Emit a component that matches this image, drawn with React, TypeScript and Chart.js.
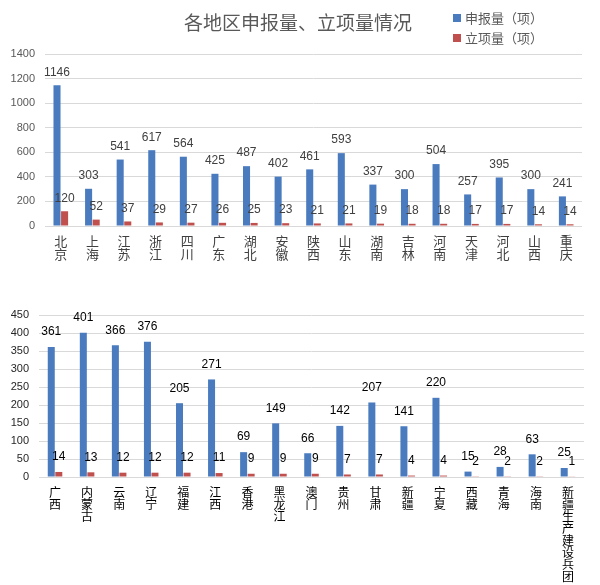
import React, { useEffect, useRef } from "react";
import { Chart, registerables } from "chart.js";

Chart.register(...registerables);

const TITLE = "各地区申报量、立项量情况";
const SERIES_NAMES = ["申报量（项）", "立项量（项）"];
const COLORS = ["#4A7BBF", "#C0504D"];

const topRegions = ["北京", "上海", "江苏", "浙江", "四川", "广东", "湖北", "安徽", "陕西", "山东", "湖南", "吉林", "河南", "天津", "河北", "山西", "重庆"];
const topApplied = [1146, 303, 541, 617, 564, 425, 487, 402, 461, 593, 337, 300, 504, 257, 395, 300, 241];
const topApproved = [120, 52, 37, 29, 27, 26, 25, 23, 21, 21, 19, 18, 18, 17, 17, 14, 14];

const bottomRegions = ["广西", "内蒙古", "云南", "辽宁", "福建", "江西", "香港", "黑龙江", "澳门", "贵州", "甘肃", "新疆", "宁夏", "西藏", "青海", "海南", "新疆生产建设兵团"];
const bottomApplied = [361, 401, 366, 376, 205, 271, 69, 149, 66, 142, 207, 141, 220, 15, 28, 63, 25];
const bottomApproved = [14, 13, 12, 12, 12, 11, 9, 9, 9, 7, 7, 4, 4, 2, 2, 2, 1];

const CJK = '"Noto Sans CJK SC", "Noto Sans", sans-serif';
const NUM = '"Liberation Sans", "DejaVu Sans", sans-serif';

function valueLabels(offset: number, color: string) {
  return {
    id: "valueLabels",
    afterDatasetsDraw(chart: any) {
      const ctx = chart.ctx;
      ctx.save();
      ctx.font = `12px ${NUM}`;
      ctx.fillStyle = color;
      ctx.textAlign = "center";
      ctx.textBaseline = "middle";
      chart.data.datasets.forEach((ds: any, i: number) => {
        const meta = chart.getDatasetMeta(i);
        meta.data.forEach((el: any, j: number) => {
          ctx.fillText(String(ds.data[j]), el.x, el.y - offset);
        });
      });
      ctx.restore();
    },
  };
}

const titleLegend = {
  id: "titleLegend",
  afterDraw(chart: any) {
    const ctx = chart.ctx;
    ctx.save();
    ctx.fillStyle = "#595959";
    ctx.font = `19px ${CJK}`;
    ctx.textAlign = "center";
    ctx.textBaseline = "middle";
    ctx.fillText(TITLE, 298, 23);
    ctx.font = `13px ${CJK}`;
    ctx.textAlign = "left";
    chart.data.datasets.forEach((ds: any, i: number) => {
      const y = 18 + i * 20;
      ctx.fillStyle = ds.backgroundColor;
      ctx.fillRect(453, y - 4, 8, 8);
      ctx.fillStyle = "#595959";
      ctx.fillText(ds.label, 465, y);
    });
    ctx.restore();
  },
};

function makeConfig(
  labels: string[],
  applied: number[],
  approved: number[],
  opts: {
    max: number;
    step: number;
    yWidth: number;
    xHeight: number;
    top: number;
    right: number;
    labelFont: number;
    labelColor: string;
    tickColor: string;
    valueColor: string;
    valueOffset: number;
    catPct: number;
    withTitle: boolean;
  }
): any {
  const plugins: any[] = [valueLabels(opts.valueOffset, opts.valueColor)];
  if (opts.withTitle) plugins.push(titleLegend);
  return {
    type: "bar",
    data: {
      labels: labels.map((s) => s.split("")),
      datasets: [
        { label: SERIES_NAMES[0], data: applied, backgroundColor: COLORS[0], categoryPercentage: opts.catPct, barPercentage: 0.93 },
        { label: SERIES_NAMES[1], data: approved, backgroundColor: COLORS[1], categoryPercentage: opts.catPct, barPercentage: 0.93 },
      ],
    },
    options: {
      animation: false,
      responsive: false,
      devicePixelRatio: 1,
      layout: { padding: { top: opts.top, right: opts.right, left: 0, bottom: 0 } },
      plugins: { legend: { display: false }, title: { display: false }, tooltip: { enabled: false } },
      scales: {
        x: {
          grid: { display: false, drawTicks: false },
          border: { display: false },
          ticks: {
            autoSkip: false,
            maxRotation: 0,
            minRotation: 0,
            padding: 9,
            color: opts.labelColor,
            font: { family: CJK, size: opts.labelFont, lineHeight: 1.0 },
          },
          afterFit(scale: any) {
            scale.height = opts.xHeight;
          },
        },
        y: {
          min: 0,
          max: opts.max,
          ticks: {
            stepSize: opts.step,
            padding: 10,
            color: opts.tickColor,
            font: { family: NUM, size: 11 },
            callback: (v: any) => String(v),
          },
          grid: { color: "#d9d9d9", drawTicks: false },
          border: { display: false },
          afterFit(scale: any) {
            scale.width = opts.yWidth;
          },
        },
      },
    },
    plugins,
  };
}

export default function App() {
  const topRef = useRef<HTMLCanvasElement>(null);
  const botRef = useRef<HTMLCanvasElement>(null);

  useEffect(() => {
    const c1 = new Chart(
      topRef.current as HTMLCanvasElement,
      makeConfig(topRegions, topApplied, topApproved, {
        max: 1400,
        step: 200,
        yWidth: 45,
        xHeight: 44,
        top: 54,
        right: 18,
        labelFont: 13,
        labelColor: "#404040",
        tickColor: "#595959",
        valueColor: "#404040",
        valueOffset: 13,
        catPct: 0.48,
        withTitle: true,
      })
    );
    const c2 = new Chart(
      botRef.current as HTMLCanvasElement,
      makeConfig(bottomRegions, bottomApplied, bottomApproved, {
        max: 450,
        step: 50,
        yWidth: 39,
        xHeight: 108,
        top: 45,
        right: 16,
        labelFont: 12,
        labelColor: "#000000",
        tickColor: "#262626",
        valueColor: "#000000",
        valueOffset: 15,
        catPct: 0.47,
        withTitle: false,
      })
    );
    return () => {
      c1.destroy();
      c2.destroy();
    };
  }, []);

  return (
    <div style={{ position: "absolute", left: 0, top: 0, width: 600, height: 585, background: "#fff" }}>
      <canvas ref={topRef} width={600} height={270} style={{ position: "absolute", left: 0, top: 0 }} />
      <canvas ref={botRef} width={600} height={315} style={{ position: "absolute", left: 0, top: 270 }} />
    </div>
  );
}
